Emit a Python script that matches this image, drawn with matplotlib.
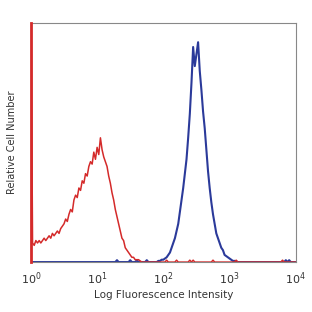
import numpy as np
import matplotlib
matplotlib.use('Agg')
import matplotlib.pyplot as plt

# bin width in decades
step = 0.025

# red (isotype) histogram, % of axis height, bins from 10^0
red_start = 0.0
red_counts = [120, 8, 7, 9, 8, 9, 8, 9, 10, 9, 10, 11, 10, 12, 11, 12, 13, 12, 14, 15,
              16, 18, 17, 20, 22, 21, 26, 28, 27, 31, 30, 34, 33, 37, 36, 40, 42, 41, 46, 43,
              48, 45, 52, 47, 44, 42, 40, 36, 33, 29, 26, 22, 19, 16, 13, 10, 9, 6, 5, 4,
              3, 2, 2, 1, 1, 1, 0.5, 0]

# blue (stained) histogram, bins from 10^1.9
blue_start = 1.9
blue_counts = [0, 0.5, 0.5, 1, 1, 1.5, 2, 3, 4, 6, 8, 10, 13, 16, 21, 26, 31, 37, 43, 52,
               62, 75, 90, 82, 87, 92, 80, 72, 63, 56, 47, 38, 31, 25, 20, 16, 12, 10, 8, 6,
               5, 3, 2.5, 2, 1.5, 1, 0.5, 0.5, 0.3, 0]

# stray events along the baseline (log10 positions)
red_stray = [2.05, 2.2, 2.4, 2.45, 2.75, 3.1, 3.8]
blue_stray = [1.3, 1.5, 1.6, 1.75, 3.85, 3.9]

grid = np.arange(0, 4 + step / 2, step)
red = np.zeros_like(grid)
blue = np.zeros_like(grid)
i0 = int(round(red_start / step))
red[i0:i0 + len(red_counts)] = red_counts
i0 = int(round(blue_start / step))
blue[i0:i0 + len(blue_counts)] = blue_counts
for s in red_stray:
    red[int(round(s / step))] = 0.8
for s in blue_stray:
    blue[int(round(s / step))] = 0.8

x = 10 ** grid

fig = plt.figure(figsize=(3.12, 3.12), dpi=100)
ax = fig.add_axes([0.099, 0.160, 0.849, 0.766])

ax.plot(x, blue, color='#2b3a9a', lw=1.5)
ax.plot(x, red, color='#d42a2a', lw=1.1)
ax.spines['left'].set_zorder(5)

ax.set_xscale('log')
ax.set_xlim(1, 1e4)
ax.set_ylim(0, 100)
ax.set_xticks([1, 10, 100, 1000, 10000])
ax.set_xticklabels([r'$10^{0}$', r'$10^{1}$', r'$10^{2}$', r'$10^{3}$', r'$10^{4}$'])
ax.minorticks_off()
ax.tick_params(axis='x', length=0, pad=6, labelsize=8, colors='#333333')
ax.set_yticks([])
for sp in ax.spines.values():
    sp.set_color('#888888')
    sp.set_linewidth(0.8)
ax.spines['left'].set_color('#d42a2a')
ax.spines['left'].set_linewidth(2)

ax.set_xlabel('Log Fluorescence Intensity', fontsize=7.5, color='#333333', labelpad=2)
ax.set_ylabel('Relative Cell Number', fontsize=7, color='#333333', labelpad=10)

fig.savefig('out.png', dpi=100)
